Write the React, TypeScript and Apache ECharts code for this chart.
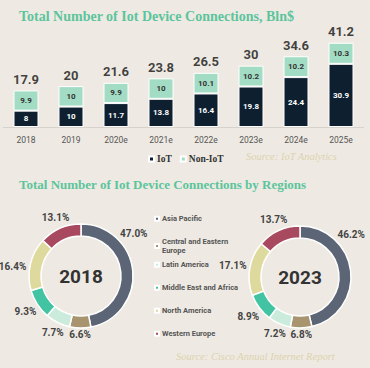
import React, { useEffect, useRef } from "react";
import * as echarts from "echarts";

const years = ["2018", "2019", "2020e", "2021e", "2022e", "2023e", "2024e", "2025e"];
const iotValues = [8, 10, 11.7, 13.8, 16.4, 19.8, 24.4, 30.9];
const nonIotValues = [9.9, 10, 9.9, 10, 10.1, 10.2, 10.2, 10.3];
const totalValues = [17.9, 20, 21.6, 23.8, 26.5, 30, 34.6, 41.2];

const regions = [
  "Asia Pacific",
  "Central and Eastern Europe",
  "Latin America",
  "Middle East and Africa",
  "North America",
  "Western Europe",
];
const share2018 = [47.0, 6.6, 7.7, 9.3, 16.4, 13.1];
const share2023 = [46.2, 6.8, 7.2, 8.9, 17.1, 13.7];

const regionColors = ["#5B6576", "#A8946F", "#CBEBDC", "#42C3A2", "#DEDA9E", "#A8495F"];
const BG = "#EEEAE3";
const TITLE_GREEN = "#5CC49C";
const SOURCE_COLOR = "#DCD2AE";
const NUM_FONT = "Roboto";
const SERIF = "Liberation Serif";

// label placement tweaks (degrees clockwise from 12 o'clock), layout only
const labelAngle2018: Record<number, number> = { 0: 51, 4: 278 };
const labelAngle2023: Record<number, number> = { 0: 50 };

function pieSeries(
  values: number[],
  center: [number, number],
  radius: [number, number],
  year: string,
  angleOverride: Record<number, number>
) {
  const total = values.reduce((a, b) => a + b, 0);
  const mids: number[] = [];
  let cum = 0;
  values.forEach((v) => {
    mids.push(((cum + v / 2) / total) * 360);
    cum += v;
  });
  const R = radius[1];
  return {
    type: "pie",
    name: year,
    center,
    radius,
    startAngle: 90,
    clockwise: true,
    avoidLabelOverlap: false,
    color: regionColors,
    itemStyle: { borderColor: "#ffffff", borderWidth: 1.5 },
    label: {
      show: true,
      position: "outside",
      formatter: (p: any) => p.value.toFixed(1) + "%",
      fontFamily: NUM_FONT,
      fontWeight: "bold",
      fontSize: 10,
      color: "#444",
    },
    labelLine: { show: false, length: 3, length2: 0 },
    labelLayout: (params: any) => {
      const i = params.dataIndex;
      const deg = angleOverride[i] != null ? angleOverride[i] : mids[i];
      const a = (deg * Math.PI) / 180;
      const s = Math.sin(a);
      const c = Math.cos(a);
      const w = params.labelRect.width;
      const d = R + 3 + Math.abs(s) * (w / 2) + Math.abs(c) * 3.5;
      return {
        x: center[0] + d * s,
        y: center[1] - d * c,
        align: "center",
        verticalAlign: "middle",
      };
    },
    emphasis: { disabled: true },
    data: regions.map((r, i) => ({ name: r, value: values[i] })),
  };
}

export default function App() {
  const ref = useRef<HTMLDivElement>(null);
  useEffect(() => {
    if (!ref.current) return;
    const chart = echarts.init(ref.current, null, { renderer: "svg" });
    const regionLegends = regions.map((r, i) => ({
      data: [r],
      left: 154,
      top: i === 1 ? 214 + 23 - 0.5 : 214 + i * 23,
      orient: "vertical",
      icon: "rect",
      itemWidth: 4,
      itemHeight: 4,
      padding: 0,
      textStyle: {
        fontFamily: NUM_FONT,
        fontWeight: "bold",
        fontSize: 7.5,
        color: "#555",
        width: 84,
        lineHeight: 9.5,
        overflow: "break",
        padding: [0, 0, 0, -2],
      },
    }));
    chart.setOption({
      animation: false,
      backgroundColor: BG,
      title: [
        {
          text: "Total Number of Iot Device Connections, Bln$",
          left: 19,
          top: 9,
          padding: 0,
          textStyle: { fontFamily: SERIF, fontWeight: "bold", fontSize: 14, color: TITLE_GREEN },
        },
        {
          text: "Total Number of Iot Device Connections by Regions",
          left: 19,
          top: 178,
          padding: 0,
          textStyle: { fontFamily: SERIF, fontWeight: "bold", fontSize: 13, color: TITLE_GREEN },
        },
        {
          text: "Source: IoT Analytics",
          left: 246,
          top: 151,
          padding: 0,
          textStyle: { fontFamily: SERIF, fontStyle: "italic", fontWeight: "normal", fontSize: 10.5, color: SOURCE_COLOR },
        },
        {
          text: "Source: Cisco Annual Internet Report",
          left: 176,
          top: 351,
          padding: 0,
          textStyle: { fontFamily: SERIF, fontStyle: "italic", fontWeight: "normal", fontSize: 10.5, color: SOURCE_COLOR },
        },
        {
          text: "2018",
          left: 81,
          top: 276,
          textAlign: "center",
          textVerticalAlign: "middle",
          padding: 0,
          textStyle: { fontFamily: NUM_FONT, fontWeight: "bold", fontSize: 19, color: "#333" },
        },
        {
          text: "2023",
          left: 300,
          top: 277,
          textAlign: "center",
          textVerticalAlign: "middle",
          padding: 0,
          textStyle: { fontFamily: NUM_FONT, fontWeight: "bold", fontSize: 19, color: "#333" },
        },
      ],
      legend: [
        {
          data: ["IoT", "Non-IoT"],
          left: 148,
          top: 154,
          orient: "horizontal",
          icon: "rect",
          itemWidth: 5,
          itemHeight: 5,
          itemGap: 8,
          padding: 0,
          textStyle: { fontFamily: SERIF, fontWeight: "bold", fontSize: 9.5, color: "#333", padding: [0, 0, 0, -2] },
        },
        ...regionLegends,
      ],
      grid: { left: 3.5, right: 6.5, top: 35, bottom: 241, containLabel: false },
      xAxis: {
        type: "category",
        data: years,
        axisLine: { show: true, lineStyle: { color: "#D6D3CC", width: 1 } },
        axisTick: { show: false },
        axisLabel: { fontFamily: NUM_FONT, fontSize: 8.5, color: "#555", margin: 8 },
      },
      yAxis: { type: "value", min: 0, max: 45, show: false, splitLine: { show: false } },
      series: [
        {
          type: "bar",
          name: "IoT",
          stack: "total",
          barWidth: 25,
          data: iotValues,
          itemStyle: { color: "#0E1F30", borderColor: "#ffffff", borderWidth: 1 },
          label: {
            show: true,
            position: "inside",
            color: "#ffffff",
            fontFamily: NUM_FONT,
            fontWeight: "bold",
            fontSize: 8,
          },
          emphasis: { disabled: true },
        },
        {
          type: "bar",
          name: "Non-IoT",
          stack: "total",
          barWidth: 25,
          data: nonIotValues,
          itemStyle: { color: "#A3DCC4", borderColor: "#ffffff", borderWidth: 1 },
          label: {
            show: true,
            position: "inside",
            color: "#333",
            fontFamily: NUM_FONT,
            fontWeight: "bold",
            fontSize: 8,
          },
          emphasis: { disabled: true },
        },
        {
          type: "scatter",
          name: "Total",
          data: totalValues,
          symbolSize: 1,
          itemStyle: { color: "rgba(0,0,0,0)" },
          label: {
            show: true,
            position: "top",
            distance: 4,
            color: "#111",
            fontFamily: NUM_FONT,
            fontWeight: "bold",
            fontSize: 13,
          },
          emphasis: { disabled: true },
        },
        pieSeries(share2018, [81, 276], [40, 52], "2018", labelAngle2018),
        pieSeries(share2023, [300, 277], [39, 51], "2023", labelAngle2023),
      ],
    });
    return () => chart.dispose();
  }, []);
  return (
    <div
      ref={ref}
      style={{ position: "fixed", left: 0, top: 0, width: 370, height: 368, background: BG }}
    />
  );
}
